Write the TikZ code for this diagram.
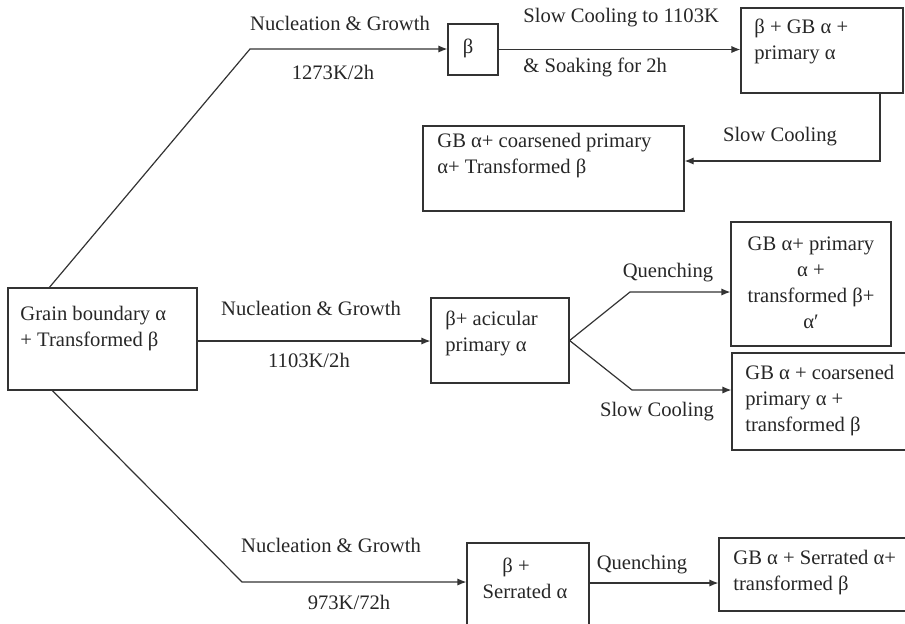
\documentclass[tikz,border=0pt]{standalone}
\usepackage{fontspec}
\setmainfont{Liberation Serif}
\usetikzlibrary{calc, positioning, fit, arrows.meta}

\tikzset{
  stagebox/.style={draw=black!80, line width=0.6pt, inner sep=0pt},
  arr/.style={-{Latex[length=4.5pt,width=3.6pt]}, draw=black!80, line width=0.6pt},
  lbl/.style={inner sep=0pt, text=black!85},
  txt/.style={inner sep=0pt, align=left, text=black!85},
}

\begin{document}
\begin{tikzpicture}[x=0.5pt, y=-0.5pt, font=\fontsize{10.3pt}{13pt}\selectfont]

    \useasboundingbox (0,0) rectangle (905,623);

    % =================================================================
    % 1. BOXES OF THE MICROSTRUCTURE STATES
    % =================================================================
    \node[stagebox, fit={(8,288) (197,390)}]   (S)    {};
    \node[stagebox, fit={(448,24) (498,75)}]   (beta) {};
    \node[stagebox, fit={(741,8) (903,93)}]    (tr)   {};
    \node[stagebox, fit={(423,126) (684,211)}] (gb)   {};
    \node[stagebox, fit={(431,298) (569,383)}] (ac)   {};
    \node[stagebox, fit={(731,222) (891,346)}] (qb)   {};
    \node[stagebox, fit={(732,353) (915,450)}] (sb)   {};
    \node[stagebox, fit={(467,543) (589,640)}] (ser)  {};
    \node[stagebox, fit={(719,538) (915,611)}] (fin)  {};

    % texts inside the boxes
    \node[txt, anchor=west] (St)   at (20,329)    {Grain boundary α\\+ Transformed β};
    \node[lbl]              (bt)   at (468,48)    {β};
    \node[txt, anchor=west] (trt)  at (754,41.5)  {β + GB α +\\primary α};
    \node[txt, anchor=west] (gbt)  at (437,155.5) {GB α+ coarsened primary\\α+ Transformed β};
    \node[txt, anchor=west] (act)  at (445,333.5) {β+ acicular\\primary α};
    \node[txt, align=center] (qbt) at (811,282.5) {GB α+ primary\\α +\\transformed β+\\α′};
    \node[txt, anchor=west] (sbt)  at (745,401)   {GB α + coarsened\\primary α +\\transformed β};
    \node[txt, align=center] (sert) at (525,578.5) {β +\hspace*{9pt}\\Serrated α};
    \node[txt, anchor=west] (fint) at (733,572.5) {GB α + Serrated α+\\transformed β};

    % =================================================================
    % 2. BEND POINTS OF THE ROUTES
    % =================================================================
    \coordinate (up)  at (250,49);
    \coordinate (mid) at (0,341);
    \coordinate (qk)  at (630,292);
    \coordinate (sk)  at (632,390);
    \coordinate (dn)  at (242,582);
    \coordinate (k1)  at (880,161);
    \coordinate (q2)  at (0,583);

    % =================================================================
    % 3. HEAT TREATMENT ROUTES
    % =================================================================
    \draw[arr] ($(S.north west)+(42,0)$) -- (up) -- (beta.west |- up);
    \draw[arr] (beta.east) -- (tr.west |- beta.east);
    \draw[arr] (tr.south -| k1) |- (gb.east |- k1);

    \draw[arr] (S.east |- mid) -- (ac.west |- mid);
    \draw[arr] (ac.east) -- (qk) -- (qb.west |- qk);
    \draw[arr] (ac.east) -- (sk) -- (sb.west |- sk);

    \draw[arr] ($(S.south west)+(45,0)$) -- (dn) -- (ser.west |- dn);
    \draw[arr] (ser.east |- q2) -- (fin.west |- q2);

    % =================================================================
    % 4. LABELS OF THE ROUTES
    % =================================================================
    \node[lbl] (ng1) at (340,23)  {Nucleation \& Growth};
    \node[lbl] (t1)  at (333,72)  {1273K/2h};
    \node[lbl, anchor=west] (sc1) at (523,18) {Slow Cooling to 1103K};
    \node[lbl, anchor=west] (so1) at (523,67) {\& Soaking for 2h};
    \node[lbl] (sc2) at (780,137) {Slow Cooling};

    \node[lbl] (ng2) at (311,308) {Nucleation \& Growth};
    \node[lbl] (t2)  at (309,360) {1103K/2h};
    \node[lbl] (qn1) at (668,273) {Quenching};
    \node[lbl] (sc3) at (657,412) {Slow Cooling};

    \node[lbl] (ng3) at (331,545) {Nucleation \& Growth};
    \node[lbl] (t3)  at (349,602) {973K/72h};
    \node[lbl] (qn2) at (642,565) {Quenching};

\end{tikzpicture}
\end{document}
